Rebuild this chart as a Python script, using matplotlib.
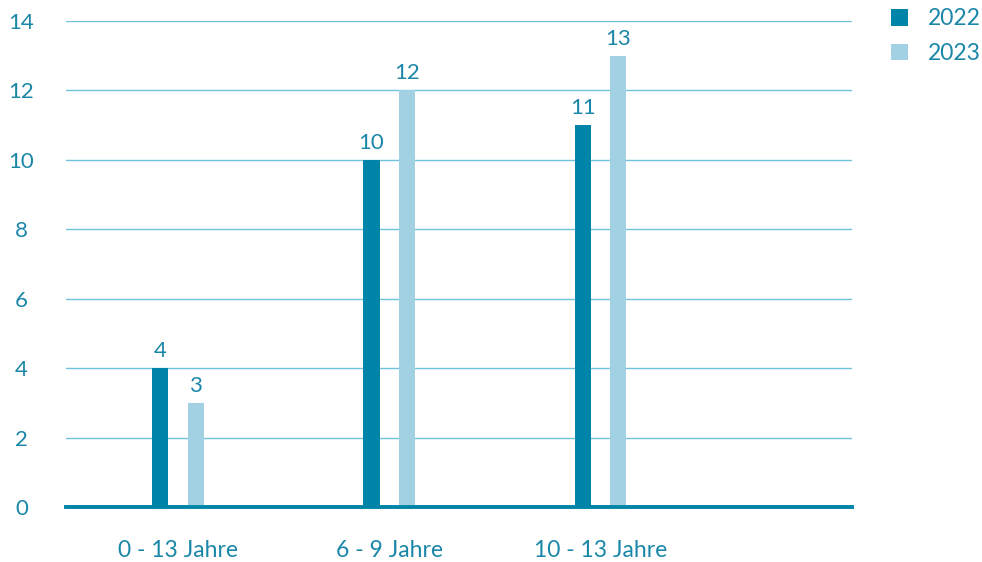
import numpy as np
import matplotlib.pyplot as plt

categories = ['0 - 13 Jahre', '6 - 9 Jahre', '10 - 13 Jahre']
values_2022 = [4, 10, 11]
values_2023 = [3, 12, 13]
yticks = [0, 2, 4, 6, 8, 10, 12, 14]

dark = '#0085a8'
light = '#a2d1e3'
grid = '#6fc3dc'
txt = '#1b87a8'

plt.rcParams['font.family'] = ['Lato', 'DejaVu Sans']

fig = plt.figure(figsize=(9.82, 5.62), dpi=100)
ax = fig.add_axes([0.0672, 0.0979, 0.8004, 0.8647])

x = np.arange(len(categories))
w = 0.076
off = 0.084
b1 = ax.bar(x - off, values_2022, w, color=dark, label='2022', zorder=3)
b2 = ax.bar(x + off, values_2023, w, color=light, label='2023', zorder=3)

for bars, vals in ((b1, values_2022), (b2, values_2023)):
    for r, v in zip(bars, vals):
        ax.text(r.get_x() + r.get_width() / 2, v + 0.2, str(v),
                ha='center', va='bottom', fontsize=16, color=txt)

ax.set_xlim(-0.53, 3.19)
ax.set_ylim(0, 14)
ax.set_yticks(yticks)
ax.set_yticklabels([str(t) for t in yticks], ha='center')
ax.set_xticks(x)
ax.set_xticklabels(categories)
ax.tick_params(axis='y', length=0, pad=32, labelsize=16, labelcolor=txt)
ax.tick_params(axis='x', length=0, pad=24, labelsize=16.5, labelcolor=txt)

ax.yaxis.grid(True, color=grid, linewidth=1.0, zorder=0)
ax.set_axisbelow(True)
for s in ['top', 'right', 'left']:
    ax.spines[s].set_visible(False)
ax.spines['bottom'].set_color(dark)
ax.spines['bottom'].set_linewidth(2.8)
ax.spines['bottom'].set_zorder(4)

fig.legend(handles=[b1, b2], loc='upper right', bbox_to_anchor=(0.999, 0.985),
           frameon=False, fontsize=16.5, labelcolor=txt,
           borderpad=0, borderaxespad=0,
           handlelength=0.72, handleheight=0.72, handletextpad=0.9,
           labelspacing=0.6)

fig.savefig('out.png', dpi=100)
